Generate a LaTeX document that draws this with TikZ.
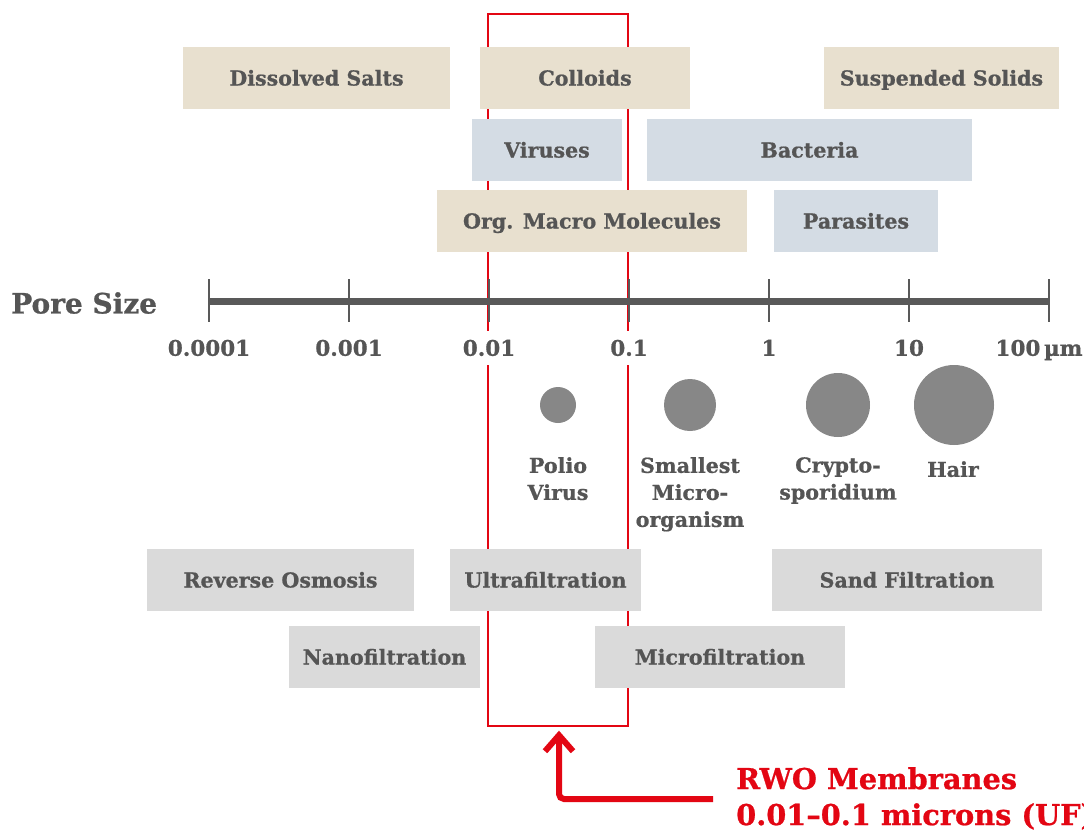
\documentclass[tikz,border=0pt]{standalone}
\usepackage{fontspec}
\setmainfont{DejaVu Serif}[BoldFeatures={FakeBold=0.8}]
\usetikzlibrary{calc}
\definecolor{txt}{HTML}{555555}
\definecolor{beigec}{HTML}{E8E0CF}
\definecolor{bluec}{HTML}{D4DCE4}
\definecolor{grayc}{HTML}{DADADA}
\definecolor{circ}{HTML}{878787}
\definecolor{axisc}{HTML}{595959}
\definecolor{redc}{HTML}{E30613}
\begin{document}
\begin{tikzpicture}[x=1pt,y=-1pt,
  lbl/.style={font=\bfseries\fontsize{20.6}{27}\selectfont, text=txt, align=center},
  bar/.style={lbl, inner sep=0pt, minimum height=62pt, minimum width=#1, text height=15pt, text depth=0pt},
  beigebar/.style={bar=#1, fill=beigec},
  bluebar/.style={bar=#1, fill=bluec},
  graybar/.style={bar=#1, fill=grayc},
  ticklbl/.style={lbl, font=\bfseries\fontsize{21.5}{27}\selectfont, fill=white, inner sep=0pt, minimum height=34pt, text height=15.5pt, text depth=0pt},
  tickline/.style={draw=axisc, line width=2pt},
  axisline/.style={draw=axisc, line width=7pt},
  dot/.style={circle, fill=circ, inner sep=0pt, minimum size=#1},
  redline/.style={draw=redc, line width=6pt, line join=miter},
  redbox/.style={draw=redc, line width=2.5pt, inner sep=0pt, minimum width=140pt, minimum height=712pt},
]
\useasboundingbox[fill=white] (0,0) rectangle (1084,830);

% red UF window
\node[redbox] (uf) at (558,370) {};

% top bars
\node[beigebar=267pt] (salts) at (316.5,78) {Dissolved Salts};
\node[beigebar=210pt] (colloids) at (585,78) {Colloids};
\node[beigebar=235pt] (solids) at (941.5,78) {Suspended Solids};
\node[bluebar=150pt] (viruses) at (547,150) {Viruses};
\node[bluebar=325pt] (bacteria) at (809.5,150) {Bacteria};
\node[beigebar=310pt] (macro) at (592,221) {Org. Macro Molecules};
\node[bluebar=164pt] (parasites) at (856,221) {Parasites};

% axis
\node[lbl, font=\bfseries\fontsize{28}{30}\selectfont, anchor=west, inner sep=0pt] (pore) at (11,303) {Pore Size};
\coordinate (a0) at (209,301);
\coordinate (a6) at (1049,301);
\draw[axisline] (a0) -- (a6);
\foreach \i/\x/\t in {0/209/0.0001, 1/349/0.001, 2/489/0.01, 3/629/0.1, 4/769/1, 5/909/10}{
  \coordinate (tk\i) at (\x,301);
  \draw[tickline] ($(tk\i)+(0,-22)$) -- ($(tk\i)+(0,21)$);
  \node[ticklbl] (l\i) at (\x,348) {\t};
}
\coordinate (tk6) at (1049,301);
\draw[tickline] ($(tk6)+(0,-22)$) -- ($(tk6)+(0,21)$);
\node[ticklbl] (l6) at (1039,348) {100\,µm};

% particles
\node[dot=36pt] (polio) at (558,405) {};
\node[dot=52pt] (micro) at (690,405) {};
\node[dot=64pt] (crypto) at (838,405) {};
\node[dot=80pt] (hair) at (954,405) {};
\node[lbl, anchor=north, inner sep=0pt] (polioT) at (558,457) {Polio\\Virus};
\node[lbl, anchor=north, inner sep=0pt] (microT) at (690,457) {Smallest\\Micro-\\organism};
\node[lbl, anchor=north, inner sep=0pt] (cryptoT) at (838,457) {Crypto-\\sporidium};
\node[lbl, anchor=north, inner sep=0pt] (hairT) at (953,461) {Hair};

% bottom bars
\node[graybar=267pt] (ro) at (280.5,580) {Reverse Osmosis};
\node[graybar=191pt] (ufbar) at (545.5,580) {Ultrafiltration};
\node[graybar=270pt] (sand) at (907,580) {Sand Filtration};
\node[graybar=191pt] (nano) at (384.5,657) {Nanofiltration};
\node[graybar=250pt] (mf) at (720,657) {Microfiltration};

% RWO label and arrow
\node[font=\bfseries\fontsize{28.8}{36}\selectfont, text=redc, align=left, anchor=north west, inner sep=0pt] (rwo) at (736,767) {RWO Membranes\\0.01\textendash 0.1 microns (UF)};
\coordinate (ae) at (713,799);
\coordinate (tip) at ($(uf.south)+(1,8)$);
\draw[redline, rounded corners=5pt] (ae) -| (tip);
\draw[redline] ($(tip)+(-14,16)$) -- (tip) -- ($(tip)+(14,16)$);
\end{tikzpicture}
\end{document}
